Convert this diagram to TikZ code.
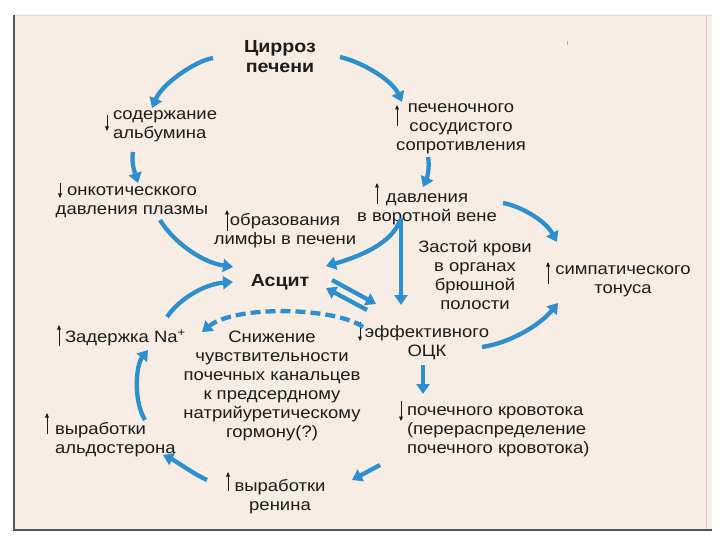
\documentclass[tikz,border=0pt]{standalone}
\usepackage{fontspec}
\setmainfont{Liberation Sans}[FakeStretch=1.12]
\usetikzlibrary{arrows.meta}
\definecolor{bg}{HTML}{F7EDE4}
\definecolor{ablue}{HTML}{2B8FD0}
\definecolor{txt}{HTML}{1C1C1C}
\definecolor{frame}{HTML}{555555}
\begin{document}
\begin{tikzpicture}[x=1pt,y=-1pt,
  lbl/.style={inner sep=0pt, outer sep=0pt, text=txt, font=\fontsize{16.5}{19}\selectfont, align=center},
  lblL/.style={lbl, align=left, anchor=west},
  bold/.style={lbl, font=\fontsize{17.5}{20}\selectfont\bfseries},
  arr/.style={draw=ablue, line width=4.3pt, -{Triangle[length=10pt,width=13pt]}},
  darr/.style={arr, dash pattern=on 10pt off 5pt},
  tick/.style={draw=txt, line width=0.9pt, -{Triangle[length=4.5pt,width=3.8pt]}}]
\useasboundingbox (0,0) rectangle (720,540);
\fill[white] (0,0) rectangle (720,540);
\fill[bg] (14,15) rectangle (712,530);
\draw[gray!30, line width=0.8pt] (14,15) -- (712,15);
\draw[bg!85!black, line width=0.6pt] (706,15) -- (706,530);
\draw[frame, line width=1.6pt] (14,15) -- (14,530) -- (712,530);
\fill[gray!70] (566.5,41) rectangle (568,45);

% nodes
\node[bold]  (cirr)   at (280,57)  {Цирроз\\печени};
\node[lblL]  (alb)    at (113,126) {содержание\\альбумина};
\node[lbl]   (onk)    at (132,202) {онкотическкого\\давления плазмы};
\node[lbl]   (lymph)  at (285,231) {образования\\лимфы в печени};
\node[lbl]   (pech)   at (461,129) {печеночного\\сосудистого\\сопротивления};
\node[lbl]   (portal) at (427,209) {давления\\в воротной вене};
\node[lbl]   (stasis) at (475,275) {Застой крови\\в органах\\брюшной\\полости};
\node[lbl]   (symp)   at (623,281) {симпатического\\тонуса};
\node[bold]  (ascit)  at (280,282) {Асцит};
\node[lbl]   (ock)    at (427,343) {эффективного\\ОЦК};
\node[lblL]  (na)     at (65,338)  {Задержка Na\textsuperscript{+}};
\node[lbl]   (sniz)   at (272,386) {Снижение\\чувствительности\\почечных канальцев\\к предсердному\\натрийуретическому\\гормону(?)};
\node[lblL]  (kid)    at (407,432) {почечного кровотока\\(перераспределение\\почечного кровотока)};
\node[lblL]  (ald)    at (55,440)  {выработки\\альдостерона};
\node[lbl]   (ren)    at (280,497) {выработки\\ренина};

% small up/down marks
\draw[tick] ([shift={(-6,-11)}]alb.west) -- ([shift={(-6,5)}]alb.west);
\draw[tick] ([shift={(-72,-19)}]onk.center) -- ([shift={(-72,-4)}]onk.center);
\draw[tick] ([shift={(-58,0)}]lymph.center) -- ([shift={(-58,-21)}]lymph.center);
\draw[tick] ([shift={(-64,-3)}]pech.center) -- ([shift={(-64,-24)}]pech.center);
\draw[tick] ([shift={(-50,-5)}]portal.center) -- ([shift={(-50,-26)}]portal.center);
\draw[tick] ([shift={(-75,3)}]symp.center) -- ([shift={(-75,-19)}]symp.center);
\draw[tick] ([shift={(-67,-21)}]ock.center) -- ([shift={(-67,-2)}]ock.center);
\draw[tick] ([shift={(-6,8)}]na.west) -- ([shift={(-6,-13)}]na.west);
\draw[tick] ([shift={(-8,-6)}]ald.west) -- ([shift={(-8,-27)}]ald.west);
\draw[tick] ([shift={(-52,-6)}]ren.center) -- ([shift={(-52,-25)}]ren.center);
\draw[tick] ([shift={(-6,-31)}]kid.west) -- ([shift={(-6,-11)}]kid.west);

% connectors
\draw[arr] ([shift={(-67,1)}]cirr.center) .. controls (195,61) and (162,84) .. ([shift={(39,-18)}]alb.west);
\draw[arr] ([shift={(20,26)}]alb.west) .. controls (131,163) and (135,173) .. ([shift={(6,-19)}]onk.center);
\draw[arr] ([shift={(28,18)}]onk.center) .. controls (172,240) and (200,262) .. ([shift={(-47,-15)}]ascit.center);
\draw[arr] ([shift={(60,0)}]cirr.center) .. controls (362,62) and (392,80) .. ([shift={(-59,-27)}]pech.center);
\draw[arr] ([shift={(-33,28)}]pech.center) .. controls (430,167) and (427,178) .. ([shift={(-4,-22)}]portal.center);
\draw[arr] ([shift={(76,-6)}]portal.center) .. controls (520,206) and (545,220) .. ([shift={(-66,-39)}]symp.center);
\draw[arr] ([shift={(-27,11)}]portal.center) .. controls (393,242) and (362,256) .. ([shift={(46,-16)}]ascit.center);
\draw[arr] ([shift={(-26,9)}]portal.center) -- ([shift={(-26,-38)}]ock.center);
\draw[arr] ([shift={(52,-2)}]ascit.center) -- ([shift={(-51,-39)}]ock.center);
\draw[arr] ([shift={(-60,-33)}]ock.center) -- ([shift={(46,6)}]ascit.center);
\draw[darr] ([shift={(-64,-16)}]ock.center) .. controls (335,307) and (235,305) .. ([shift={(137,-6)}]na.west);
\draw[arr] ([shift={(102,-21)}]na.west) .. controls (180,298) and (205,284) .. ([shift={(-47,0)}]ascit.center);
\draw[arr] ([shift={(90,-20)}]ald.west) .. controls (133,400) and (136,365) .. ([shift={(83,12)}]na.west);
\draw[arr] ([shift={(-73,-17)}]ren.center) .. controls (192,473) and (176,461) .. ([shift={(108,15)}]ald.west);
\draw[arr] ([shift={(-27,33)}]kid.west) -- ([shift={(72,-17)}]ren.center);
\draw[arr] ([shift={(-4,22)}]ock.center) -- ([shift={(16,-38)}]kid.west);
\draw[arr] ([shift={(55,4)}]ock.center) .. controls (510,343) and (540,325) .. ([shift={(-65,22)}]symp.center);
\end{tikzpicture}
\end{document}
